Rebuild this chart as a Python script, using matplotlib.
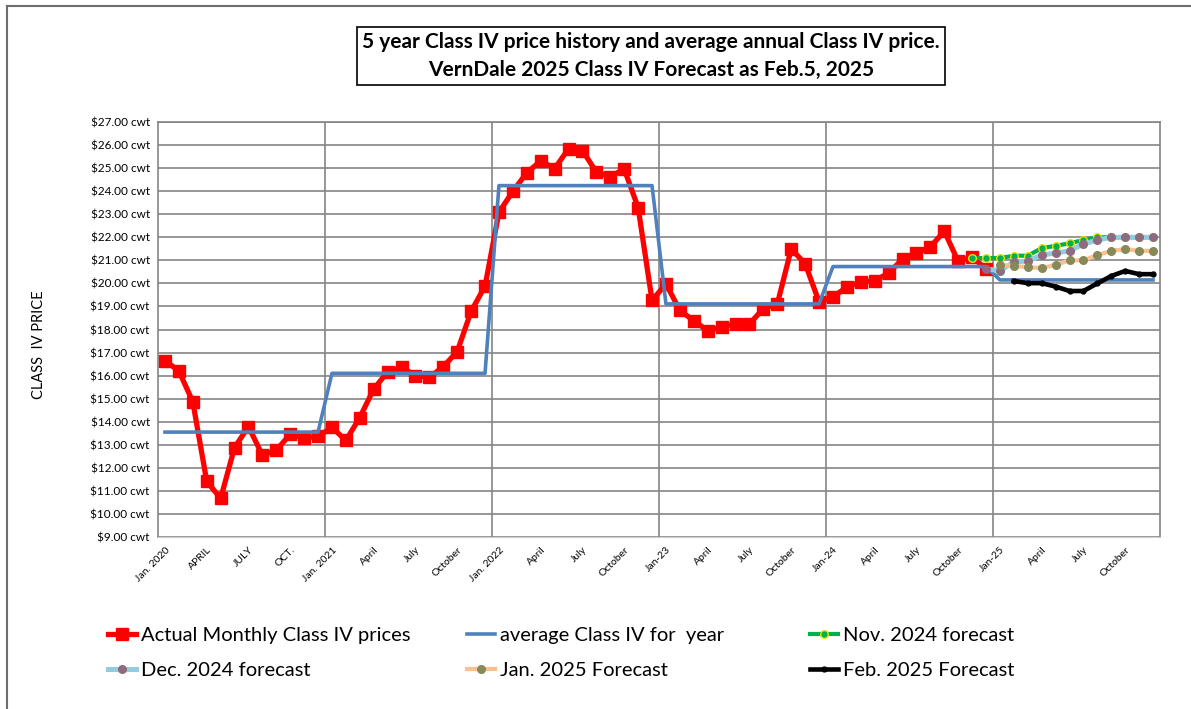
import numpy as np
import matplotlib
matplotlib.use('Agg')
import matplotlib.pyplot as plt
from matplotlib.lines import Line2D
from matplotlib.patches import Rectangle

plt.rcParams['font.family'] = ['Lato', 'DejaVu Sans']

# Monthly actual Class IV prices, Jan 2020 - Dec 2024 ($/cwt)
actual = [
    16.65, 16.20, 14.87, 11.42, 10.67, 12.88, 13.79, 12.55, 12.77, 13.45, 13.30, 13.36,
    13.75, 13.19, 14.18, 15.42, 16.16, 16.36, 16.00, 15.92, 16.39, 17.04, 18.79, 19.88,
    23.09, 23.99, 24.80, 25.31, 24.98, 25.84, 25.76, 24.83, 24.63, 24.96, 23.29, 19.26,
    19.98, 18.83, 18.38, 17.95, 18.10, 18.26, 18.24, 18.91, 19.10, 21.49, 20.86, 19.20,
    19.41, 19.84, 20.06, 20.11, 20.45, 21.05, 21.32, 21.58, 22.27, 20.95, 21.15, 20.62,
]

# Average annual Class IV price, 2020 - 2025
years = [2020, 2021, 2022, 2023, 2024, 2025]
annual_avg = [13.55, 16.10, 24.24, 19.11, 20.73, 20.15]

# Forecast series (first month index, values)
nov_start = 58  # Nov 2024
nov_fc = [21.10, 21.10, 21.10, 21.20, 21.20, 21.53, 21.63, 21.74, 21.88, 22.00, 22.00, 22.00, 22.00, 22.00]
dec_start = 59  # Dec 2024
dec_fc = [20.63, 20.55, 20.93, 20.97, 21.23, 21.32, 21.41, 21.71, 21.88, 22.00, 22.00, 22.00, 22.00]
jan_start = 60  # Jan 2025
jan_fc = [20.80, 20.76, 20.70, 20.67, 20.80, 21.00, 21.00, 21.23, 21.41, 21.49, 21.41, 21.41]
feb_start = 61  # Feb 2025
feb_fc = [20.10, 20.01, 20.01, 19.86, 19.67, 19.67, 20.00, 20.32, 20.54, 20.40, 20.40]

tick_labels = ['Jan. 2020', 'APRIL', 'JULY', 'OCT.',
               'Jan. 2021', 'April', 'July', 'October',
               'Jan. 2022', 'April', 'July', 'October',
               'Jan-23', 'April', 'July', 'October',
               'Jan-24', 'April', 'July', 'October',
               'Jan-25', 'April', 'July', 'October']

n_months = 12 * len(years)
avg_monthly = np.repeat(annual_avg, 12)

fig = plt.figure(figsize=(11.91, 7.09), dpi=100)
ax = fig.add_axes([158 / 1191, 1 - 537 / 709, (1160 - 158) / 1191, (537 - 122) / 709])

grid_c = '#858585'
ax.set_ylim(9, 27)
ax.set_xlim(-0.5, n_months - 0.5)
ax.set_yticks(np.arange(9, 28, 1))
ax.set_yticklabels([f"${v:.2f} cwt" for v in range(9, 28)], fontsize=8.5)
ax.set_xticks(np.arange(0, n_months, 3))
ax.set_xticklabels(tick_labels, fontsize=7.5, rotation=45, ha='right', va='top',
                   rotation_mode='anchor')
ax.tick_params(length=0, pad=6)
ax.grid(axis='y', color=grid_c, linewidth=1.2)
for k in range(1, len(years)):
    ax.axvline(12 * k - 0.5, color=grid_c, linewidth=1.2, zorder=0.5)
for s in ['left', 'right', 'top']:
    ax.spines[s].set_color(grid_c)
    ax.spines[s].set_linewidth(1.2)
ax.spines['bottom'].set_color('#d0d0d0')
ax.set_axisbelow(True)

x_act = np.arange(len(actual))
ax.plot(x_act, actual, color='#ff0000', linewidth=3.8, marker='s', markersize=9,
        zorder=3)
ax.plot(np.arange(n_months), avg_monthly, color='#4f81bd', linewidth=2.6, zorder=4)

ax.plot(np.arange(nov_start, nov_start + len(nov_fc)), nov_fc, color='#00b050',
        linewidth=3, linestyle=(0, (2.5, 1)), marker='o', markersize=5.5,
        markerfacecolor='#00b050', markeredgecolor='#e8e000', markeredgewidth=1, zorder=5)
ax.plot(np.arange(dec_start, dec_start + len(dec_fc)), dec_fc, color='#93cddd',
        linewidth=3.6, marker='o', markersize=5.5, markerfacecolor='#8f6b80',
        markeredgecolor='#8f6b80', zorder=6)
ax.plot(np.arange(jan_start, jan_start + len(jan_fc)), jan_fc, color='#fac090',
        linewidth=3, marker='o', markersize=5.5, markerfacecolor='#878a58',
        markeredgecolor='#878a58', zorder=7)
ax.plot(np.arange(feb_start, feb_start + len(feb_fc)), feb_fc, color='black',
        linewidth=3.3, marker='o', markersize=3.5, zorder=8)

ax.set_ylabel('CLASS  IV PRICE', fontsize=10.5, labelpad=0)
ax.yaxis.set_label_coords((46 - 158) / (1160 - 158), 1 - (345 - 122) / 415)

# title box
fig.patches.append(Rectangle((357 / 1191, 1 - 85 / 709), (945 - 357) / 1191, 58 / 709,
                             transform=fig.transFigure, facecolor='white',
                             edgecolor='black', linewidth=1.2))
fig.text(651 / 1191, 1 - 42 / 709,
         '5 year Class IV price history and average annual Class IV price.',
         ha='center', va='center', fontsize=15, fontweight='bold')
fig.text(651 / 1191, 1 - 70 / 709,
         'VernDale 2025 Class IV Forecast as Feb.5, 2025',
         ha='center', va='center', fontsize=15, fontweight='bold')

# outer frame (left and top visible)
fig.add_artist(Line2D([7 / 1191, 7 / 1191], [0, 1 - 6 / 709], color='#6e6e6e',
                      linewidth=1.5, transform=fig.transFigure))
fig.add_artist(Line2D([7 / 1191, 1], [1 - 6 / 709, 1 - 6 / 709], color='#6e6e6e',
                      linewidth=1.5, transform=fig.transFigure))

# legend, three columns of two rows
h_act = Line2D([], [], color='#ff0000', linewidth=3.8, marker='s', markersize=9)
h_avg = Line2D([], [], color='#4f81bd', linewidth=2.6)
h_nov = Line2D([], [], color='#00b050', linewidth=3, marker='o', markersize=5.5,
               markerfacecolor='#00b050', markeredgecolor='#e8e000')
h_dec = Line2D([], [], color='#93cddd', linewidth=3.6, marker='o', markersize=5.5,
               markerfacecolor='#8f6b80', markeredgecolor='#8f6b80')
h_jan = Line2D([], [], color='#fac090', linewidth=3, marker='o', markersize=5.5,
               markerfacecolor='#878a58', markeredgecolor='#878a58')
h_feb = Line2D([], [], color='black', linewidth=3.3, marker='o', markersize=3.5)

cols = [
    (108, [h_act, h_dec], ['Actual Monthly Class IV prices', 'Dec. 2024 forecast']),
    (467, [h_avg, h_jan], ['average Class IV for  year', 'Jan. 2025 Forecast']),
    (810, [h_nov, h_feb], ['Nov. 2024 forecast', 'Feb. 2025 Forecast']),
]
for xpx, hs, ls in cols:
    fig.legend(hs, ls, loc='upper left', bbox_to_anchor=(xpx / 1191, 1 - 627 / 709),
               frameon=False, fontsize=14.5, handlelength=1.4, handletextpad=0.25,
               labelspacing=0.9, borderpad=0, borderaxespad=0)

fig.savefig('out.png', dpi=100)
